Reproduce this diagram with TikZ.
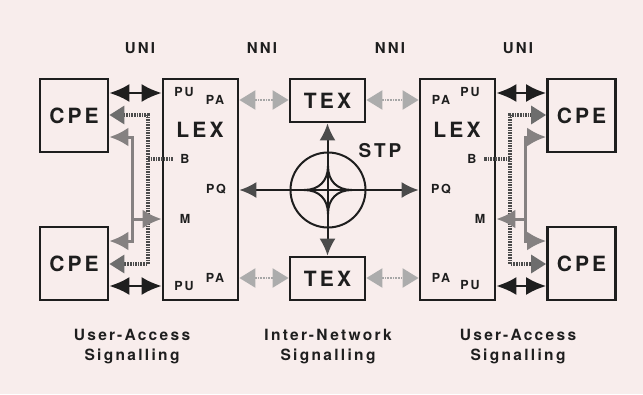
\documentclass[tikz,border=0pt]{standalone}
\usepackage{fontspec}
\setmainfont{TeX Gyre Heros}
\newfontfamily\heros[LetterSpace=15]{TeX Gyre Heros}
\usepackage{xcolor}
\usetikzlibrary{arrows.meta, positioning}

\definecolor{bgpink}{HTML}{F8EDEC}
\definecolor{ink}{HTML}{1E1E1E}
\definecolor{mgray}{HTML}{858181}

\tikzset{
    putip/.tip={Latex[length=20pt,width=18pt]},
    patip/.tip={Triangle[length=16pt,width=19pt,color=gray!65]},
    btip/.tip={Triangle[length=15pt,width=18pt,color=ink!65]},
    mtip/.tip={Latex[length=19pt,width=19pt,color=mgray]},
    pqtip/.tip={Latex[length=17pt,width=16pt,color=ink!80]}
}

\begin{document}
\begin{tikzpicture}[x=1pt, y=-1pt]
    \tikzstyle{box} = [rectangle, draw=ink, line width=2.8pt, text=ink, font=\heros\bfseries\fontsize{21}{24}\selectfont]
    \tikzstyle{cpe} = [box, minimum width=68pt, minimum height=73pt]
    \tikzstyle{lex} = [box, minimum width=75pt, minimum height=221pt]
    \tikzstyle{tex} = [box, minimum width=75pt, minimum height=43pt]
    \tikzstyle{big} = [text=ink, font=\heros\bfseries\fontsize{21}{24}\selectfont]
    \tikzstyle{iface} = [text=ink, font=\heros\bfseries\fontsize{15}{17}\selectfont]
    \tikzstyle{port} = [text=ink, inner sep=2pt, font=\heros\bfseries\fontsize{12.5}{14}\selectfont]
    \tikzstyle{caption} = [text=ink, align=center, font=\heros\bfseries\fontsize{15.5}{20}\selectfont]
    \tikzstyle{puline} = [draw=ink, line width=2.2pt, arrows={putip-putip}]
    \tikzstyle{paline} = [draw=gray!70, line width=2.2pt, dash pattern=on 1pt off 0.6pt, arrows={patip-patip}]
    \tikzstyle{bline} = [draw=ink!80, line width=3.2pt, dash pattern=on 1.6pt off 1pt]
    \tikzstyle{mline} = [draw=mgray, line width=3pt]
    \tikzstyle{pqline} = [draw=ink, line width=2pt, arrows={pqtip-pqtip}]

    \fill[bgpink] (0,0) rectangle (643,394);

    % rows and columns of the signalling paths
    \coordinate (yPU1) at (0,93);
    \coordinate (yPA1) at (0,100);
    \coordinate (yB1) at (0,115);
    \coordinate (yM1) at (0,137);
    \coordinate (yB) at (0,159);
    \coordinate (yM) at (0,219);
    \coordinate (yM2) at (0,241);
    \coordinate (yB2) at (0,264);
    \coordinate (yPA2) at (0,278);
    \coordinate (yPU2) at (0,286);
    \coordinate (xML) at (132,0);
    \coordinate (xBL) at (148,0);
    \coordinate (xBR) at (510,0);
    \coordinate (xMR) at (525,0);

    % Boxes
    \node (cpeL1) [cpe] at (74,115.5) {CPE};
    \node (cpeL2) [cpe] at (74,263.5) {CPE};
    \node (lexL) [lex] at (200.5,189.5) {};
    \node (lexLt) [big] at (200,130) {LEX};
    \node (texT) [tex] at (327.5,100.5) {TEX};
    \node (texB) [tex] at (327.5,278.5) {TEX};
    \node (lexR) [lex] at (457.5,189.5) {};
    \node (lexRt) [big] at (457,130) {LEX};
    \node (cpeR1) [cpe] at (581.5,115.5) {CPE};
    \node (cpeR2) [cpe] at (581.5,263.5) {CPE};

    % STP
    \node (stp) [circle, draw=ink, line width=2pt, minimum size=75pt, inner sep=0pt] at (328,190) {};
    \node (stpT) [text=ink, font=\heros\bfseries\fontsize{19}{22}\selectfont] at (380,151) {STP};
    \draw[ink, line width=2pt, shift={(stp.center)}]
        (0,-24) .. controls (0,-9) and (9,0) .. (24,0)
        .. controls (9,0) and (0,9) .. (0,24)
        .. controls (0,9) and (-9,0) .. (-24,0)
        .. controls (-9,0) and (0,-9) .. (0,-24);

    % Interface labels
    \node (uniL) [iface] at (140,48) {UNI};
    \node (nniL) [iface] at (262,48) {NNI};
    \node (nniR) [iface] at (390,48) {NNI};
    \node (uniR) [iface] at (518,48) {UNI};

    % Port labels
    \node (puL1) [port] at (184,92) {PU};
    \node (paL1) [port] at (215,100) {PA};
    \node (bL) [port] at (185,159) {B};
    \node (pqL) [port] at (216,189) {PQ};
    \node (mL) [port] at (185,219) {M};
    \node (paL2) [port] at (215,278) {PA};
    \node (puL2) [port] at (184,286) {PU};
    \node (paR1) [port] at (441,100) {PA};
    \node (puR1) [port] at (470,92) {PU};
    \node (bR) [port] at (472,159) {B};
    \node (pqR) [port] at (441,189) {PQ};
    \node (mR) [port] at (480,219) {M};
    \node (paR2) [port] at (441,278) {PA};
    \node (puR2) [port] at (470,285) {PU};

    % Captions
    \node (capL) [caption] at (132,347) {User-Access\\Signalling};
    \node (capM) [caption] at (328,347) {Inter-Network\\Signalling};
    \node (capR) [caption] at (518,347) {User-Access\\Signalling};

    % User-access signalling, left
    \draw[puline] (cpeL1.east |- yPU1) -- (lexL.west |- yPU1);
    \draw[puline] (cpeL2.east |- yPU2) -- (lexL.west |- yPU2);
    \draw[bline, arrows={btip-btip}]
        (cpeL1.east |- yB1) -- (xBL |- yB1) -- (xBL |- yB2) -- (cpeL2.east |- yB2);
    \draw[bline, shorten >=5pt] (xBL |- yB) -- (bL);
    \draw[mline, arrows={mtip-mtip}]
        (cpeL1.east |- yM1) -- (xML |- yM1) -- (xML |- yM2) -- (cpeL2.east |- yM2);
    \draw[mline, arrows={-mtip}] (xML |- yM) -- (lexL.west |- yM);

    % User-access signalling, right
    \draw[puline] (cpeR1.west |- yPU1) -- (lexR.east |- yPU1);
    \draw[puline] (cpeR2.west |- yPU2) -- (lexR.east |- yPU2);
    \draw[bline, arrows={btip-btip}]
        (cpeR1.west |- yB1) -- (xBR |- yB1) -- (xBR |- yB2) -- (cpeR2.west |- yB2);
    \draw[bline, shorten >=5pt] (xBR |- yB) -- (bR);
    \draw[mline, arrows={mtip-mtip}]
        (cpeR1.west |- yM1) -- (xMR |- yM1) -- (xMR |- yM2) -- (cpeR2.west |- yM2);
    \draw[mline, arrows={-mtip}] (xMR |- yM) -- (lexR.east |- yM);

    % Inter-network signalling
    \draw[paline] (lexL.east |- yPA1) -- (texT.west |- yPA1);
    \draw[paline] (lexL.east |- yPA2) -- (texB.west |- yPA2);
    \draw[paline] (texT.east |- yPA1) -- (lexR.west |- yPA1);
    \draw[paline] (texB.east |- yPA2) -- (lexR.west |- yPA2);
    \draw[pqline] (lexL.east |- stp) -- (lexR.west |- stp);
    \draw[pqline] (texT.south) -- (texB.north);
\end{tikzpicture}
\end{document}
